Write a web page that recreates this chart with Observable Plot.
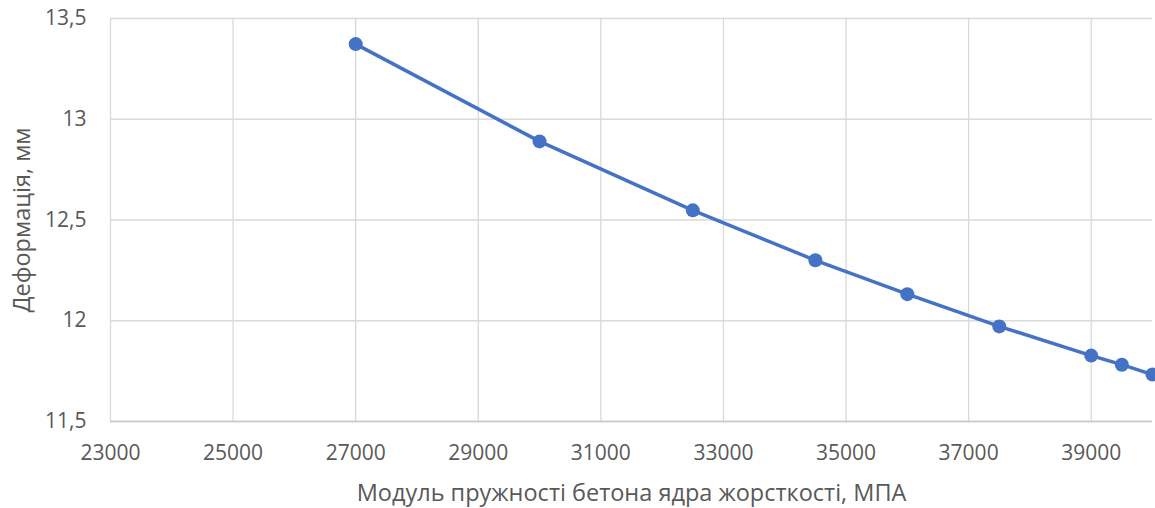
<!DOCTYPE html>
<html>
<head>
<meta charset="utf-8">
<script src="https://cdn.jsdelivr.net/npm/d3@7"></script>
<script src="https://cdn.jsdelivr.net/npm/@observablehq/plot@0.6"></script>
<style>
  html, body { margin: 0; padding: 0; background: #fff; }
</style>
</head>
<body>
<div id="chart"></div>
<script>
const modulus = [27000, 30000, 32500, 34500, 36000, 37500, 39000, 39500, 40000];
const deformation = [13.373, 12.89, 12.548, 12.30, 12.132, 11.972, 11.827, 11.782, 11.733];
const xTicks = [23000, 25000, 27000, 29000, 31000, 33000, 35000, 37000, 39000];
const yTicks = [11.5, 12, 12.5, 13, 13.5];
const xLabel = "Модуль пружності бетона ядра жорсткості, МПА";
const yLabel = "Деформація, мм";

const data = modulus.map((m, i) => ({x: m, y: deformation[i]}));
const blue = "#4472C4";
const grid = "#d9d9d9";
const textColor = "#595959";

const chart = Plot.plot({
  width: 1155,
  height: 508,
  marginLeft: 110,
  marginRight: 3,
  marginTop: 18,
  marginBottom: 87,
  style: {fontFamily: "Open Sans", fontSize: "21px", color: textColor, background: "#fff"},
  x: {domain: [23000, 40000]},
  y: {domain: [11.5, 13.5]},
  marks: [
    Plot.gridX(xTicks, {stroke: grid, strokeOpacity: 1, strokeWidth: 1.3}),
    Plot.gridY(yTicks, {stroke: grid, strokeOpacity: 1, strokeWidth: 1.3}),
    Plot.ruleY([11.5], {stroke: "#c8c8c8", strokeWidth: 1.3}),
    Plot.axisX(xTicks, {tickSize: 0, tickPadding: 24, label: null, fill: textColor, fontSize: 21, tickFormat: d => String(d)}),
    Plot.axisY(yTicks, {tickSize: 0, tickPadding: 24, label: null, fill: textColor, fontSize: 21, tickFormat: d => String(d).replace(".", ",")}),
    Plot.text([xLabel], {frameAnchor: "bottom", dy: 72, textAnchor: "middle", lineAnchor: "middle", fill: textColor, fontSize: 23.5}),
    Plot.text([yLabel], {frameAnchor: "left", dx: -88, rotate: -90, textAnchor: "middle", lineAnchor: "middle", fill: textColor, fontSize: 23.5}),
    Plot.line(data, {x: "x", y: "y", stroke: blue, strokeWidth: 3.5}),
    Plot.dot(data, {x: "x", y: "y", r: 7, fill: blue, stroke: "none"})
  ]
});
document.getElementById("chart").appendChild(chart);
</script>
</body>
</html>
